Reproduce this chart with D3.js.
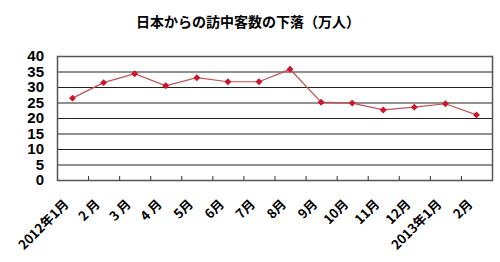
<!doctype html>
<html lang="ja">
<head>
<meta charset="utf-8">
<title>日本からの訪中客数の下落</title>
<script src="https://cdn.jsdelivr.net/npm/d3@7"></script>
<style>
  body { margin: 0; background: #fff; }
  svg { display: block; }
  text { font-family: "Liberation Sans", Arial, "Noto Sans CJK JP", sans-serif; font-weight: bold; }
</style>
</head>
<body>
<svg width="500" height="262"></svg>
<script>
// categories (months) and visitor counts (万人)
var months = ["2012年1月", "2 月", "3 月", "4 月", "5月", "6月", "7月", "8月", "9月", "10月", "11月", "12月", "2013年1月", "2月"];
var visitors = [26.4, 31.4, 34.3, 30.4, 33.0, 31.7, 31.7, 35.7, 25.1, 24.8, 22.6, 23.5, 24.6, 21.0];
var yTicks = [0, 5, 10, 15, 20, 25, 30, 35, 40];
var title = "日本からの訪中客数の下落（万人）";

var svg = d3.select("svg");
var pLeft = 57, pRight = 492, pTop = 56, pBottom = 180;

var x = d3.scaleBand().domain(months).range([pLeft, pRight]);
var y = d3.scaleLinear().domain([0, 40]).range([pBottom, pTop]);

svg.append("text")
  .attr("x", 248).attr("y", 27)
  .attr("text-anchor", "middle")
  .style("font-size", "14px")
  .style("font-family", "'Noto Sans CJK JP', sans-serif")
  .text(title);

// gridlines
svg.selectAll("line.grid")
  .data(yTicks.slice(1))
  .enter().append("line")
    .attr("class", "grid")
    .attr("x1", pLeft).attr("x2", pRight)
    .attr("y1", d => y(d) + 0.5).attr("y2", d => y(d) + 0.5)
    .style("stroke", "#222").style("stroke-width", "1px");

// plot border
svg.append("rect")
  .attr("x", pLeft + 0.5).attr("y", pTop + 0.5)
  .attr("width", pRight - pLeft).attr("height", pBottom - pTop)
  .style("fill", "none").style("stroke", "#555").style("stroke-width", "1.5px");

// y labels
svg.selectAll("text.ylab")
  .data(yTicks)
  .enter().append("text")
    .attr("class", "ylab")
    .attr("x", 44).attr("y", d => y(d))
    .attr("dy", "0.36em")
    .attr("text-anchor", "end")
    .style("font-size", "15px")
    .text(d => d);

// tick marks between categories
svg.selectAll("line.tick")
  .data(months.slice(1))
  .enter().append("line")
    .attr("class", "tick")
    .attr("x1", d => x(d) + 0.5).attr("x2", d => x(d) + 0.5)
    .attr("y1", pBottom - 4).attr("y2", pBottom)
    .style("stroke", "#333").style("stroke-width", "1px");

// x labels, rotated
svg.selectAll("text.xlab")
  .data(months)
  .enter().append("text")
    .attr("class", "xlab")
    .attr("text-anchor", "end")
    .attr("transform", d => "translate(" + (x(d) + x.bandwidth() / 2 - 3) + "," + (pBottom + 25) + ") rotate(-45)")
    .style("font-size", "13px")
    .style("font-family", "'Noto Sans CJK JP', sans-serif")
    .text(d => d);

var pts = months.map((m, i) => [x(m) + x.bandwidth() / 2, y(visitors[i])]);

svg.append("path")
  .attr("d", d3.line()(pts))
  .style("fill", "none").style("stroke", "#c45050").style("stroke-width", "1.2px");

// square turned 45° -> diamond marker
svg.selectAll("path.mark")
  .data(pts)
  .enter().append("path")
    .attr("class", "mark")
    .attr("transform", d => "translate(" + d[0] + "," + d[1] + ") rotate(45)")
    .attr("d", d3.symbol().type(d3.symbolSquare).size(24))
    .style("fill", "#d0142a");
</script>
</body>
</html>
